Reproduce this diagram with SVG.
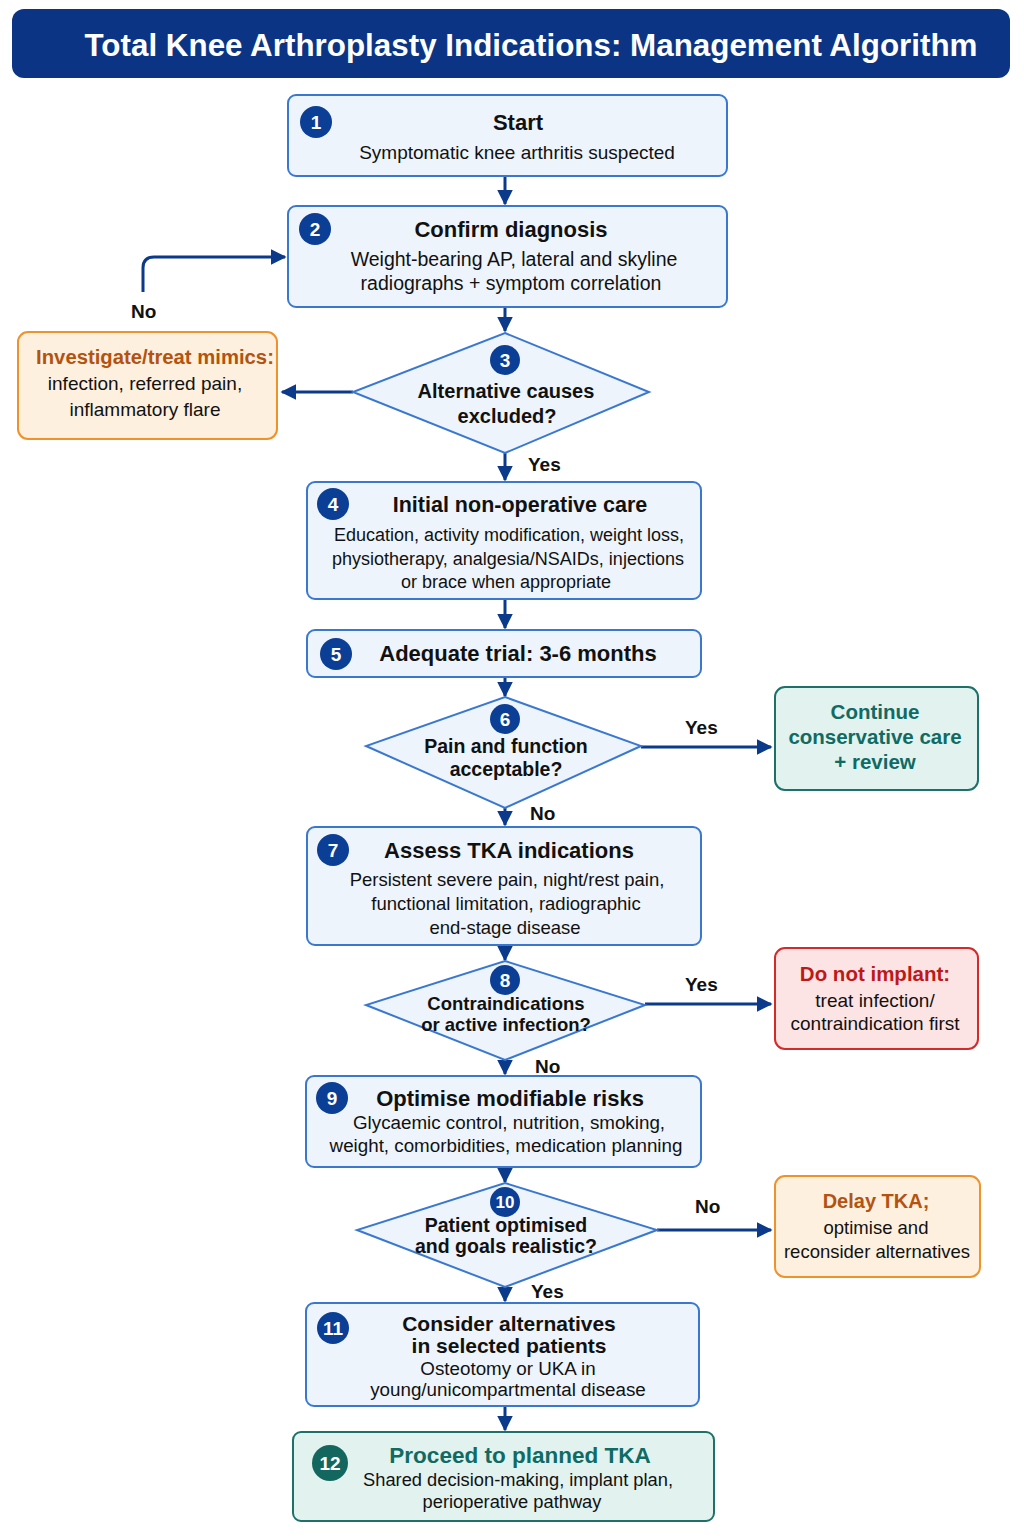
<svg xmlns="http://www.w3.org/2000/svg" width="1024" height="1536" viewBox="0 0 1024 1536">
<defs>
<marker id="ah" viewBox="0 0 10 10" refX="9" refY="5" markerWidth="5.2" markerHeight="5.2" orient="auto" markerUnits="strokeWidth">
<path d="M0,0 L10,5 L0,10 z" fill="#0b3a8a"/>
</marker>
<style>
text{font-family:"Liberation Sans",Arial,sans-serif;fill:#111;text-anchor:middle}
.t{font-weight:bold;font-size:22px}
.s{font-size:19px}
.lbl{font-weight:bold;font-size:19px;text-anchor:start}
.box{fill:#edf4fc;stroke:#3a78d0;stroke-width:2}
.dia{fill:#edf4fc;stroke:#3a78d0;stroke-width:2}
.org{fill:#fdf0df;stroke:#f0922a;stroke-width:2}
.red{fill:#fde4e4;stroke:#d42a2a;stroke-width:2}
.teal{fill:#e2f2ef;stroke:#1e7068;stroke-width:2}
.badge{fill:#0b3f96}
.bn{fill:#fff;font-weight:bold;font-size:19px}
.con{fill:none;stroke:#0b3a8a;stroke-width:3;marker-end:url(#ah)}
.ot{fill:#b4530f;font-weight:bold}
.tt{fill:#0f6b63;font-weight:bold}
.rt{fill:#c01818;font-weight:bold}
</style>
</defs>
<rect width="1024" height="1536" fill="#ffffff"/>

<g id="title">
<rect x="12" y="9" width="998" height="69" rx="12" fill="#0b3584"/>
<text x="531" y="56" fill="#fff" style="fill:#fff;font-weight:bold;font-size:32px" textLength="893" lengthAdjust="spacingAndGlyphs">Total Knee Arthroplasty Indications: Management Algorithm</text>
</g>

<g id="connectors">
<path class="con" d="M505,176 V204"/>
<path class="con" d="M143,292 V268 Q143,257 154,257 H285"/>
<path class="con" d="M505,307 V331"/>
<path class="con" d="M353,392 H282"/>
<path class="con" d="M505,453 V480"/>
<path class="con" d="M505,599 V628"/>
<path class="con" d="M505,677 V696"/>
<path class="con" d="M641,747 H771"/>
<path class="con" d="M505,808 V825"/>
<path class="con" d="M505,945 V960"/>
<path class="con" d="M645,1004 H771"/>
<path class="con" d="M505,1060 V1074"/>
<path class="con" d="M505,1167 V1182"/>
<path class="con" d="M657,1230 H771"/>
<path class="con" d="M505,1287 V1301"/>
<path class="con" d="M505,1406 V1430"/>
<text class="lbl" x="131" y="318">No</text>
<text class="lbl" x="528" y="471">Yes</text>
<text class="lbl" x="685" y="734">Yes</text>
<text class="lbl" x="530" y="820">No</text>
<text class="lbl" x="685" y="991">Yes</text>
<text class="lbl" x="535" y="1073">No</text>
<text class="lbl" x="695" y="1213">No</text>
<text class="lbl" x="531" y="1298">Yes</text>
</g>

<g id="n1">
<rect class="box" x="288" y="95" width="439" height="81" rx="8"/>
<circle class="badge" cx="316" cy="122" r="16"/><text class="bn" x="316" y="129">1</text>
<text class="t" x="518" y="130">Start</text>
<text class="s" x="517" y="159">Symptomatic knee arthritis suspected</text>
</g>

<g id="n2">
<rect class="box" x="288" y="206" width="439" height="101" rx="8"/>
<circle class="badge" cx="315" cy="229" r="16"/><text class="bn" x="315" y="236">2</text>
<text class="t" x="511" y="237">Confirm diagnosis</text>
<text class="s" x="514" y="266" style="font-size:19.5px">Weight-bearing AP, lateral and skyline</text>
<text class="s" x="511" y="290" style="font-size:19.5px">radiographs + symptom correlation</text>
</g>

<g id="n3">
<path class="dia" d="M505,333 L649,392 L505,453 L353,392 Z"/>
<circle class="badge" cx="505" cy="360" r="15"/><text class="bn" x="505" y="367">3</text>
<text class="t" x="506" y="398" style="font-size:20px">Alternative causes</text>
<text class="t" x="507" y="423" style="font-size:20px">excluded?</text>
</g>

<g id="mimics">
<rect class="org" x="18" y="332" width="259" height="107" rx="10"/>
<text class="ot" x="155" y="364" style="font-size:20.3px">Investigate/treat mimics:</text>
<text class="s" x="145" y="390">infection, referred pain,</text>
<text class="s" x="145" y="416">inflammatory flare</text>
</g>

<g id="n4">
<rect class="box" x="307" y="482" width="394" height="117" rx="8"/>
<circle class="badge" cx="333" cy="504" r="16"/><text class="bn" x="333" y="511">4</text>
<text class="t" x="520" y="512" style="font-size:21.5px">Initial non-operative care</text>
<text class="s" x="509" y="541" style="font-size:18px">Education, activity modification, weight loss,</text>
<text class="s" x="508" y="565" style="font-size:18px">physiotherapy, analgesia/NSAIDs, injections</text>
<text class="s" x="506" y="588" style="font-size:18px">or brace when appropriate</text>
</g>

<g id="n5">
<rect class="box" x="307" y="630" width="394" height="47" rx="8"/>
<circle class="badge" cx="336" cy="654" r="16"/><text class="bn" x="336" y="661">5</text>
<text class="t" x="518" y="661">Adequate trial: 3-6 months</text>
</g>

<g id="n6">
<path class="dia" d="M505,697 L641,746 L505,808 L366,746 Z"/>
<circle class="badge" cx="505" cy="719" r="15"/><text class="bn" x="505" y="726">6</text>
<text class="t" x="506" y="753" style="font-size:19.5px">Pain and function</text>
<text class="t" x="506" y="776" style="font-size:19.5px">acceptable?</text>
</g>

<g id="continue">
<rect class="teal" x="775" y="687" width="203" height="103" rx="10"/>
<text class="tt" x="875" y="719" style="font-size:20.5px">Continue</text>
<text class="tt" x="875" y="744" style="font-size:20.5px">conservative care</text>
<text class="tt" x="875" y="769" style="font-size:20.5px">+ review</text>
</g>

<g id="n7">
<rect class="box" x="307" y="827" width="394" height="118" rx="8"/>
<circle class="badge" cx="333" cy="850" r="16"/><text class="bn" x="333" y="857">7</text>
<text class="t" x="509" y="858">Assess TKA indications</text>
<text class="s" x="507" y="886" style="font-size:18.5px">Persistent severe pain, night/rest pain,</text>
<text class="s" x="506" y="910" style="font-size:18.5px">functional limitation, radiographic</text>
<text class="s" x="505" y="934" style="font-size:18.5px">end-stage disease</text>
</g>

<g id="n8">
<path class="dia" d="M505,961 L645,1005 L505,1060 L366,1005 Z"/>
<circle class="badge" cx="505" cy="980" r="15"/><text class="bn" x="505" y="987">8</text>
<text class="t" x="506" y="1010" style="font-size:18.5px">Contraindications</text>
<text class="t" x="506" y="1031" style="font-size:18.5px">or active infection?</text>
</g>

<g id="noimplant">
<rect class="red" x="775" y="948" width="203" height="101" rx="10"/>
<text class="rt" x="875" y="981" style="font-size:20.5px">Do not implant:</text>
<text class="s" x="875" y="1007">treat infection/</text>
<text class="s" x="875" y="1030">contraindication first</text>
</g>

<g id="n9">
<rect class="box" x="306" y="1076" width="395" height="91" rx="8"/>
<circle class="badge" cx="332" cy="1098" r="16"/><text class="bn" x="332" y="1105">9</text>
<text class="t" x="510" y="1106">Optimise modifiable risks</text>
<text class="s" x="509" y="1129" style="font-size:18.8px">Glycaemic control, nutrition, smoking,</text>
<text class="s" x="506" y="1152" style="font-size:18.8px">weight, comorbidities, medication planning</text>
</g>

<g id="n10">
<path class="dia" d="M505,1183 L657,1230 L505,1287 L357,1230 Z"/>
<circle class="badge" cx="505" cy="1202" r="15"/><text class="bn" x="505" y="1208" style="font-size:17px">10</text>
<text class="t" x="506" y="1232" style="font-size:19.5px">Patient optimised</text>
<text class="t" x="506" y="1253" style="font-size:19.5px">and goals realistic?</text>
</g>

<g id="delay">
<rect class="org" x="775" y="1176" width="205" height="101" rx="10"/>
<text class="ot" x="876" y="1208" style="font-size:20px">Delay TKA;</text>
<text class="s" x="876" y="1234" style="font-size:18.5px">optimise and</text>
<text class="s" x="877" y="1258" style="font-size:18.5px">reconsider alternatives</text>
</g>

<g id="n11">
<rect class="box" x="306" y="1303" width="393" height="103" rx="8"/>
<circle class="badge" cx="333" cy="1328" r="16"/><text class="bn" x="333" y="1335">11</text>
<text class="t" x="509" y="1331" style="font-size:21px">Consider alternatives</text>
<text class="t" x="509" y="1353" style="font-size:21px">in selected patients</text>
<text class="s" x="508" y="1375" style="font-size:18.8px">Osteotomy or UKA in</text>
<text class="s" x="508" y="1396" style="font-size:18.8px">young/unicompartmental disease</text>
</g>

<g id="n12">
<rect class="teal" x="293" y="1432" width="421" height="89" rx="8"/>
<circle style="fill:#13675f" cx="330" cy="1463" r="18"/><text class="bn" x="330" y="1470">12</text>
<text class="tt" x="520" y="1463" style="font-size:22.5px">Proceed to planned TKA</text>
<text class="s" x="518" y="1486" style="font-size:18.3px">Shared decision-making, implant plan,</text>
<text class="s" x="512" y="1508" style="font-size:18.3px">perioperative pathway</text>
</g>
</svg>
